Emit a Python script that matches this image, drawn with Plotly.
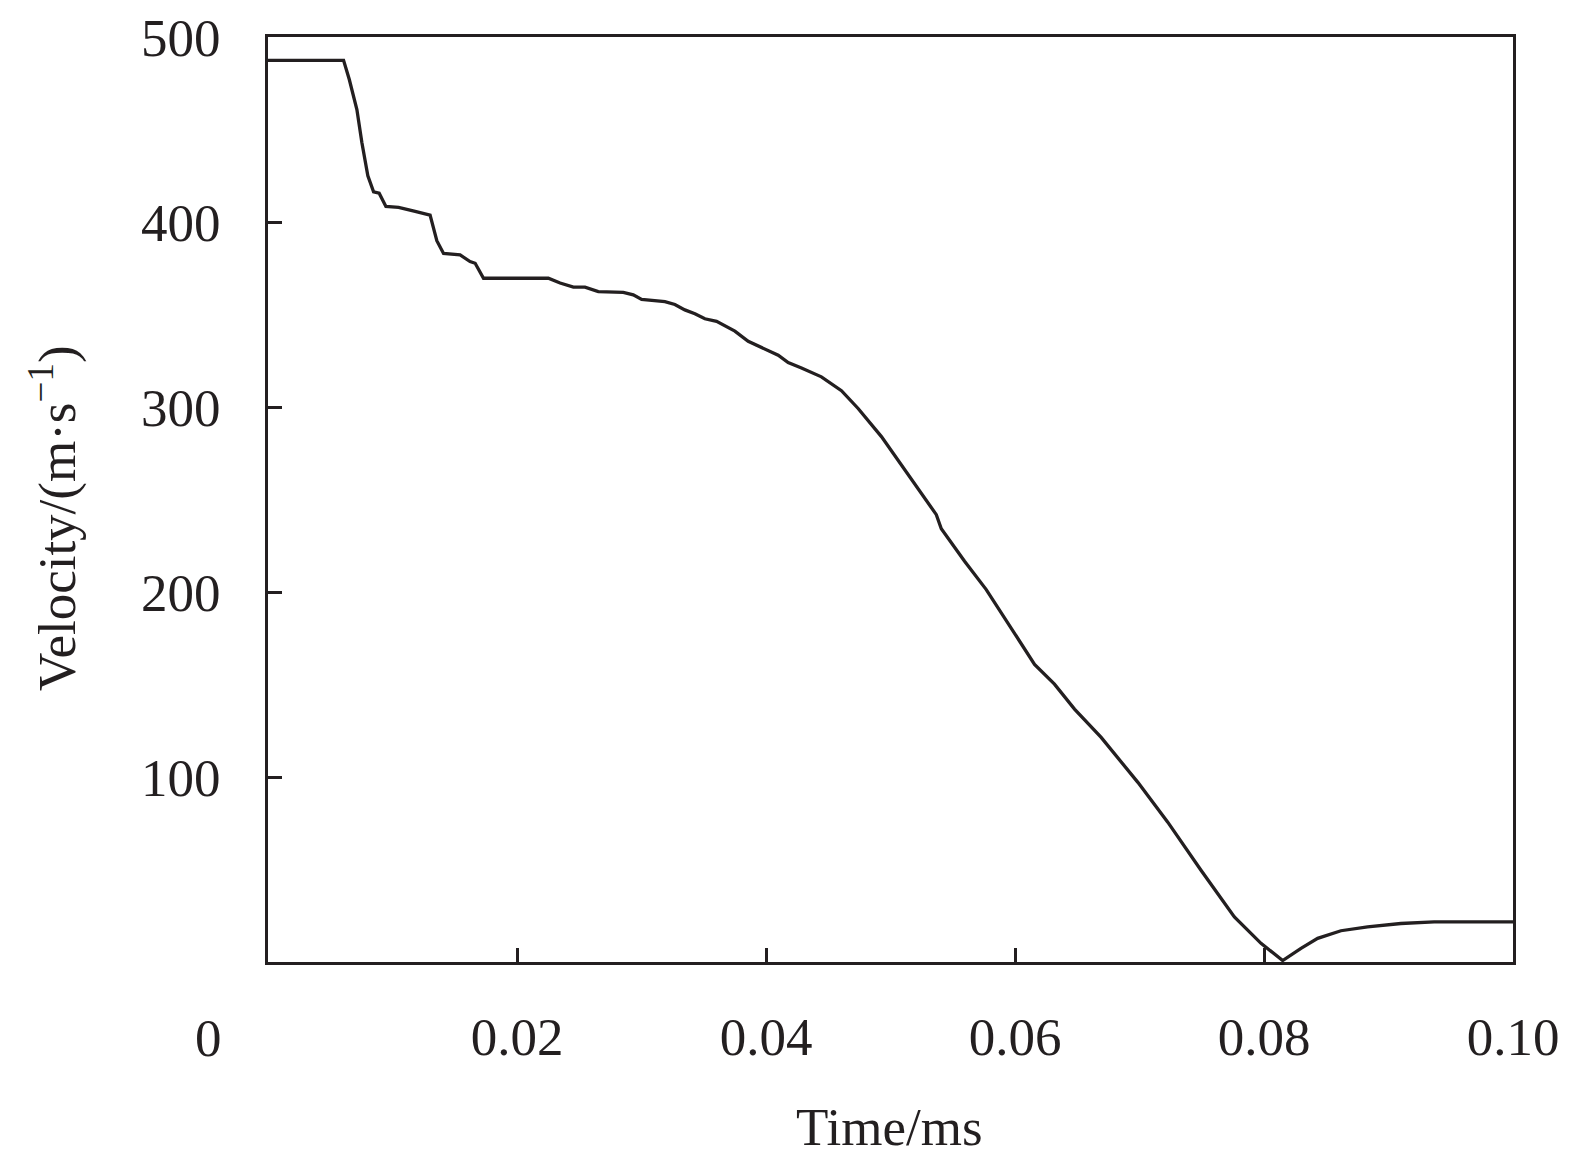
import plotly.graph_objects as go

time_ms = [0.0, 0.00607, 0.00653, 0.00714, 0.00754, 0.00802, 0.00848, 0.00893, 0.00947,
           0.01049, 0.01182, 0.01302, 0.01356, 0.01410, 0.01543, 0.01623, 0.01664, 0.01731,
           0.02252, 0.02346, 0.02453, 0.02546, 0.02653, 0.02854, 0.02934, 0.03001, 0.03188,
           0.03268, 0.03348, 0.03429, 0.03509, 0.03603, 0.03750, 0.03857, 0.04098, 0.04178,
           0.04285, 0.04445, 0.04606, 0.04740, 0.04927, 0.05087, 0.05328, 0.05368, 0.05408,
           0.05595, 0.05769, 0.05890, 0.05997, 0.06157, 0.06317, 0.06478, 0.06692, 0.06987,
           0.07227, 0.07494, 0.07762, 0.07976, 0.08150, 0.08297, 0.08431, 0.08618, 0.08832,
           0.09099, 0.09367, 0.10000]
velocity = [487.4, 487.4, 477.0, 460.8, 443.0, 425.0, 416.3, 415.6, 408.4,
            407.9, 405.7, 403.7, 389.9, 383.0, 382.2, 378.6, 377.7, 369.6,
            369.6, 367.0, 364.8, 364.8, 362.4, 362.0, 360.6, 358.1, 357.0,
            355.4, 352.5, 350.4, 347.7, 346.3, 341.0, 335.5, 328.0, 324.0,
            321.1, 316.3, 308.8, 299.2, 284.0, 268.7, 246.2, 241.8, 234.2,
            216.6, 201.3, 188.7, 177.1, 160.9, 150.2, 136.7, 121.4, 97.1,
            75.6, 49.6, 24.4, 10.1, 0.8, 7.4, 12.8, 16.9, 19.0,
            20.8, 21.7, 21.7]

x_tickvals = [0.02, 0.04, 0.06, 0.08, 0.10]
x_ticktext = ["0.02", "0.04", "0.06", "0.08", "0.10"]
y_tickvals = [100, 200, 300, 400, 500]
y_ticktext = ["100", "200", "300", "400", "500"]

INK = "#231f20"
FONT = "Liberation Serif"
OFF = 8  # default page body margin
W, H = 1575 - OFF, 1171 - OFF
ML, MR, MT, MB = 268 - OFF, 62, 37 - OFF, 209
PW, PH = W - ML - MR, H - MT - MB


def px_x(px):
    return (px - OFF - ML) / PW


def px_y(py):
    return (H - MB - (py - OFF)) / PH


fig = go.Figure()
fig.add_trace(go.Scatter(x=time_ms, y=velocity, mode="lines",
                         line=dict(color=INK, width=3.3), showlegend=False,
                         cliponaxis=False))

axis_common = dict(ticks="inside", ticklen=14, tickwidth=3, tickcolor=INK,
                   showline=True, linewidth=3, linecolor=INK, mirror=True,
                   showgrid=False, zeroline=False, automargin=False,
                   ticklabeloverflow="allow",
                   tickfont=dict(family=FONT, size=53, color=INK))

ann_font = dict(family=FONT, size=53, color=INK)

fig.update_layout(
    width=W, height=H,
    margin=dict(l=ML, r=MR, t=MT, b=MB, autoexpand=False),
    paper_bgcolor="white", plot_bgcolor="white",
    font=dict(family=FONT, size=53, color=INK),
    xaxis=dict(range=[0, 0.1], tickvals=x_tickvals, ticktext=x_ticktext,
               ticklabelstandoff=26, **axis_common),
    yaxis=dict(range=[0, 500], tickvals=y_tickvals, ticktext=y_ticktext,
               ticklabelstandoff=34, **axis_common),
    annotations=[
        dict(text="0", x=px_x(208), y=px_y(1038), xref="paper", yref="paper",
             xanchor="center", yanchor="middle", showarrow=False, font=ann_font),
        dict(text="Time/ms", x=px_x(889), y=px_y(1127), xref="paper", yref="paper",
             xanchor="center", yanchor="middle", showarrow=False, font=ann_font),
        dict(text="Velocity/(m·s<sup>−1</sup>)", x=px_x(53), y=px_y(518),
             xref="paper", yref="paper", xanchor="center", yanchor="middle",
             showarrow=False, textangle=-90, font=ann_font),
    ],
)

fig.write_html("out.html")
